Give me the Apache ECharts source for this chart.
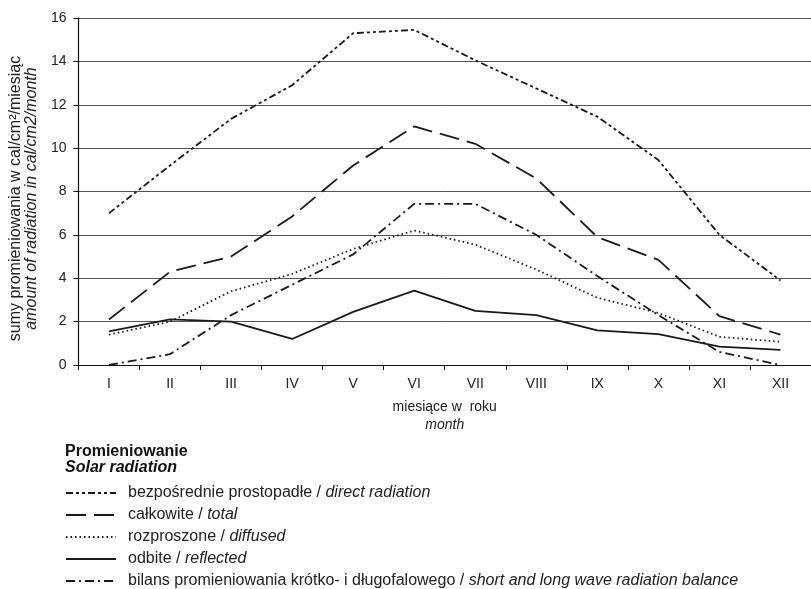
<!DOCTYPE html>
<html><head><meta charset="utf-8">
<script src="https://cdn.jsdelivr.net/npm/echarts@6/dist/echarts.min.js"></script>
<style>html,body{margin:0;padding:0;background:#fff}#c{width:811px;height:589px}</style>
</head><body><div id="c"></div>
<script>
const months = ['I','II','III','IV','V','VI','VII','VIII','IX','X','XI','XII'];
const direct    = [7.0, 9.2, 11.35, 12.9, 15.3, 15.45, 14.05, 12.75, 11.45, 9.45, 6.0, 3.9];
const total     = [2.1, 4.3, 5.0, 6.85, 9.2, 11.0, 10.2, 8.6, 5.9, 4.85, 2.25, 1.4];
const diffused  = [1.4, 2.0, 3.4, 4.2, 5.35, 6.2, 5.55, 4.4, 3.1, 2.4, 1.3, 1.07];
const reflected = [1.55, 2.1, 2.0, 1.2, 2.45, 3.43, 2.5, 2.3, 1.6, 1.42, 0.85, 0.7];
const balance   = [0.0, 0.5, 2.3, 3.7, 5.1, 7.43, 7.43, 6.0, 4.1, 2.3, 0.6, 0.0];
const seriesNames = [
  'bezpośrednie prostopadłe / direct radiation',
  'całkowite / total',
  'rozproszone / diffused',
  'odbite / reflected',
  'bilans promieniowania krótko- i długofalowego / short and long wave radiation balance'
];
const seriesData = [direct, total, diffused, reflected, balance];
const dashTypes = [[7,3,3,3,3,3], [20,8], [1.5,3], 'solid', [9,4,2,4]];

const chart = echarts.init(document.getElementById('c'));
const FONT = 'Liberation Sans, Arial, sans-serif';
chart.setOption({
  animation: false,
  backgroundColor: '#fff',
  textStyle: { fontFamily: FONT },
  grid: { left: 73, top: 18, width: 744, height: 347 },
  xAxis: {
    type: 'category', data: months, boundaryGap: true,
    axisLine: { lineStyle: { color: '#111', width: 1.2 } },
    axisTick: { show: true, length: 5, lineStyle: { color: '#111' } },
    axisLabel: { color: '#222', fontSize: 14, margin: 12, fontFamily: FONT },
    name: '{a|miesiące w  roku}\n{b|month}',
    nameLocation: 'middle', nameGap: 33,
    nameTextStyle: {
      color: '#222', fontFamily: FONT, lineHeight: 18,
      rich: { a: { fontSize: 14, color: '#222', fontFamily: FONT, lineHeight: 18 },
              b: { fontSize: 14, color: '#222', fontStyle: 'italic', fontFamily: FONT, lineHeight: 18 } }
    }
  },
  yAxis: {
    type: 'value', min: 0, max: 16, interval: 2,
    axisLine: { show: true, lineStyle: { color: '#111', width: 1.2 } },
    axisTick: { show: true, length: 5, lineStyle: { color: '#111' } },
    axisLabel: { color: '#222', fontSize: 14, margin: 12, fontFamily: FONT },
    splitLine: { lineStyle: { color: '#555', width: 1 } },
    name: '{a|sumy promieniowania w cal/cm²/miesiąc}\n{b|amount of radiation in cal/cm2/month}',
    nameLocation: 'middle', nameGap: 35,
    nameTextStyle: {
      color: '#222', fontFamily: FONT, lineHeight: 16, padding: [0, 14, 0, 0],
      rich: { a: { fontSize: 16, color: '#222', fontFamily: FONT, lineHeight: 16 },
              b: { fontSize: 16, color: '#222', fontStyle: 'italic', fontFamily: FONT, lineHeight: 16 } }
    }
  },
  legend: {
    orient: 'vertical', left: 65, top: 485, height: 130, padding: 0,
    itemWidth: 50, itemHeight: 14, itemGap: 6,
    data: seriesNames,
    selectedMode: false,
    itemStyle: { color: 'transparent', borderColor: 'transparent', borderWidth: 0, opacity: 0 },
    formatter: function (n) {
      const p = n.split(' / ');
      return '{n|' + p[0] + ' / }{i|' + p[1] + '}';
    },
    textStyle: {
      color: '#222', fontFamily: FONT, fontSize: 16, padding: [0,0,0,7], lineHeight: 16,
      rich: { n: { fontSize: 16, color: '#222', fontFamily: FONT, lineHeight: 16 },
              i: { fontSize: 16, color: '#222', fontStyle: 'italic', fontFamily: FONT, lineHeight: 16 } }
    }
  },
  graphic: [
    { type: 'text', left: 65, top: 444, style: { text: 'Promieniowanie', font: 'bold 16px ' + FONT, fill: '#111' } },
    { type: 'text', left: 65, top: 460, style: { text: 'Solar radiation', font: 'italic bold 16px ' + FONT, fill: '#111' } }
  ],
  series: seriesNames.map((n, i) => ({
    name: n, type: 'line', data: seriesData[i],
    symbol: 'none', showSymbol: false,
    lineStyle: { color: '#1a1a1a', width: 1.8, type: dashTypes[i] },
    itemStyle: { color: '#1a1a1a' }
  }))
});
</script></body></html>
